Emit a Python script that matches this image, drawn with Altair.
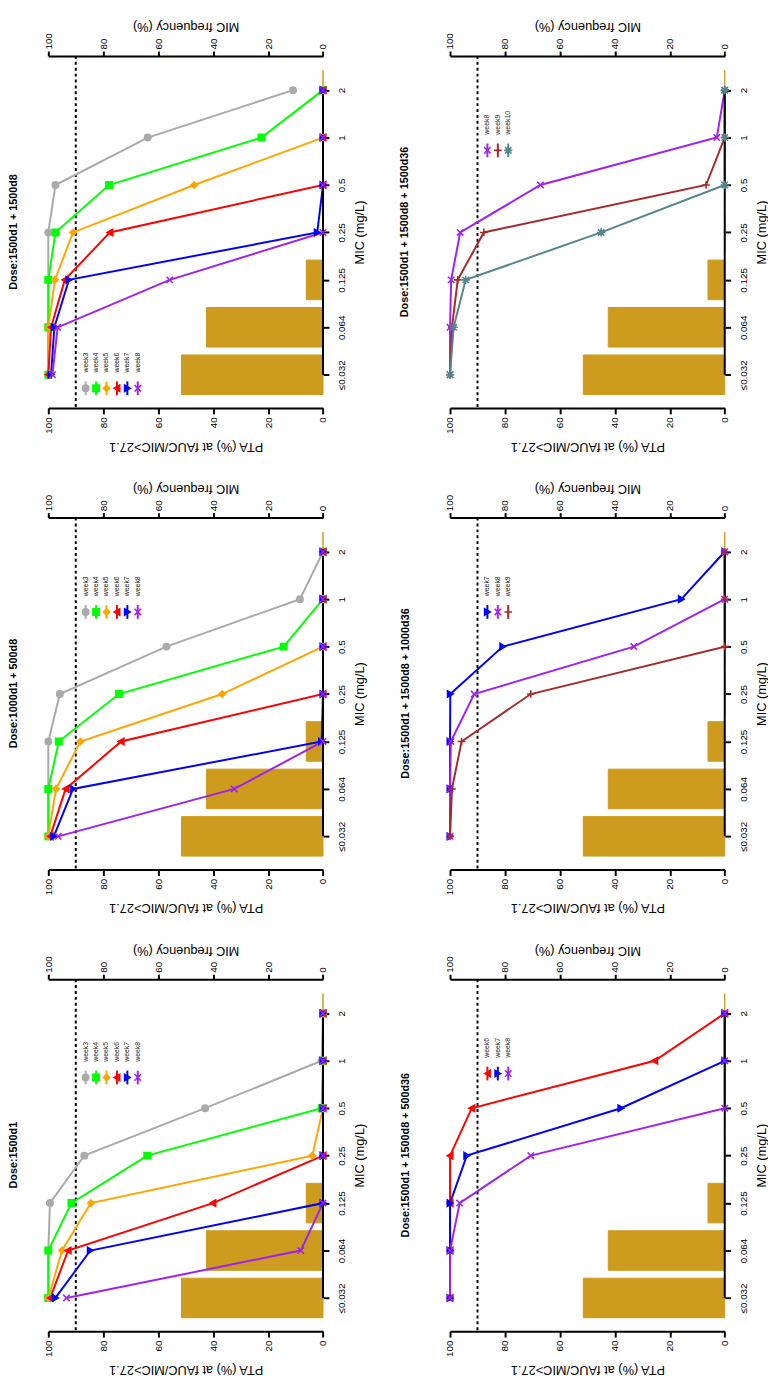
import json
import altair as alt
import pandas as pd

# ---------------- data ----------------
MIC_LABELS = ["≤0.032", "0.064", "0.125", "0.25", "0.5", "1", "2"]
MIC_FREQ = [51.5, 42.4, 6.1, 0, 0, 0, 0]          # MIC frequency (%)
TARGET = [90]                                     # PTA target line (%)

WEEKS = ["week3", "week4", "week5", "week6", "week7", "week8", "week9", "week10"]
WEEK_COLORS = ["#AAAAAA", "#00FF00", "#FFA500", "#FF0000", "#0000FF",
               "#A020F0", "#A52A2A", "#53868B"]
X_PATH = "M-1,-1L1,1M-1,1L1,-1"
PLUS_PATH = "M-1.2,0L1.2,0M0,-1.2L0,1.2"
STAR_PATH = "M-1,-1L1,1M-1,1L1,-1M-1.3,0L1.3,0M0,-1.3L0,1.3"
WEEK_SHAPES = ["circle", "square", "diamond", "triangle-left", "triangle-right",
               X_PATH, PLUS_PATH, STAR_PATH]
WEEK_FILLS = ["#AAAAAA", "#00FF00", "#FFA500", "#FF0000", "#0000FF",
              "transparent", "transparent", "transparent"]

PTA_1500d1_1500d8 = {
    "week3": [100, 100, 100, 100, 97.4, 63.8, 10.9],
    "week4": [100, 100, 100, 97.4, 77.9, 22.4, 0],
    "week5": [100, 100, 97.6, 91.0, 46.9, 0, 0],
    "week6": [100, 99.0, 94.0, 77.6, 0, 0, 0],
    "week7": [99.0, 97.8, 92.5, 2.1, 0, 0, 0],
    "week8": [98.5, 96.6, 55.8, 0, 0, 0, 0],
}
PTA_1000d1_500d8 = {
    "week3": [100, 100, 100, 95.8, 57.0, 8.4, 0],
    "week4": [100, 100, 96.2, 74.3, 14.3, 0, 0],
    "week5": [100, 97.2, 88.3, 36.7, 0, 0, 0],
    "week6": [99.3, 93.7, 73.5, 0, 0, 0, 0],
    "week7": [98.0, 91.0, 0.5, 0, 0, 0, 0],
    "week8": [96.4, 32.3, 0, 0, 0, 0, 0],
}
PTA_1500d1 = {
    "week3": [100, 100, 99.4, 86.9, 42.9, 0.5, 0],
    "week4": [100, 100, 91.6, 64.0, 0.5, 0, 0],
    "week5": [100, 95.0, 84.5, 3.9, 0, 0, 0],
    "week6": [99.3, 92.8, 40.1, 0, 0, 0, 0],
    "week7": [97.4, 84.7, 0, 0, 0, 0, 0],
    "week8": [93.4, 8.1, 0, 0, 0, 0, 0],
}
PTA_1500d36 = {
    "week8": [100, 100, 99.6, 96.3, 67.1, 2.9, 0],
    "week9": [100, 99.3, 97.2, 87.7, 6.8, 0, 0],
    "week10": [100, 98.7, 94.3, 45.0, 0, 0, 0],
}
PTA_1000d36 = {
    "week7": [100, 100, 100, 99.9, 80.8, 15.8, 0],
    "week8": [100, 100, 99.7, 91.2, 33.1, 0, 0],
    "week9": [100, 99.3, 95.8, 70.6, 0, 0, 0],
}
PTA_500d36 = {
    "week6": [100, 100, 100, 100, 92.1, 25.5, 0],
    "week7": [100, 100, 100, 93.9, 37.8, 0, 0],
    "week8": [100, 100, 96.5, 70.6, 0, 0, 0],
}

PANELS = [
    ("Dose:1500d1 + 1500d8", PTA_1500d1_1500d8, 338, 23),
    ("Dose:1500d1 + 1500d8 + 1500d36", PTA_1500d36, 96, 33),
    ("Dose:1000d1 + 500d8", PTA_1000d1_500d8, 96, 23),
    ("Dose:1500d1 + 1500d8 + 1000d36", PTA_1000d36, 96, 33),
    ("Dose:1500d1", PTA_1500d1, 100, 23),
    ("Dose:1500d1 + 1500d8 + 500d36", PTA_500d36, 96, 33),
]

# ---------------- style ----------------
FONT = "Liberation Sans"
GOLD = "#CD9B1D"
W, H = 279.4, 358
Y_DOMAIN = [-0.7, 6.72]
BAR_HALF = 0.4167

x_scale = alt.Scale(domain=[0, 100], reverse=True, nice=False)
y_scale = alt.Scale(domain=Y_DOMAIN, nice=False, zero=False)
color_scale = alt.Scale(domain=WEEKS, range=WEEK_COLORS)
shape_scale = alt.Scale(domain=WEEKS, range=WEEK_SHAPES)
fill_scale = alt.Scale(domain=WEEKS, range=WEEK_FILLS)

label_expr = json.dumps(MIC_LABELS, ensure_ascii=False) + "[datum.value]"
y_axis = alt.Axis(orient="right", values=list(range(len(MIC_LABELS))), labelExpr=label_expr,
                  title="MIC (mg/L)", domain=False, tickSize=6, tickWidth=2,
                  labelAngle=270, labelAlign="center", labelBaseline="top", labelPadding=8,
                  titleAngle=270, titleBaseline="top", titlePadding=7, titleAlign="center",
                  grid=False)
pta_axis = alt.Axis(orient="bottom", title="PTA (%) at fAUC/MIC>27.1",
                    values=[0, 20, 40, 60, 80, 100], format="d",
                    labelAngle=270, labelAlign="right", labelBaseline="middle", labelPadding=3,
                    tickSize=6, tickWidth=2, domainWidth=2,
                    titleAngle=180, titleBaseline="bottom", titlePadding=6, grid=False)
freq_axis = alt.Axis(orient="top", title="MIC frequency (%)",
                     values=[0, 20, 40, 60, 80, 100], format="d",
                     labelAngle=270, labelAlign="left", labelBaseline="middle", labelPadding=2,
                     tickSize=5, tickWidth=2, domainWidth=2,
                     titleAngle=180, titleBaseline="top", titlePadding=0, grid=False)


def make_panel(title, pta, legend_y, title_offset):
    n = len(MIC_LABELS)
    pts = pd.DataFrame([{"series": s, "idx": i, "pta": v}
                        for s, vals in pta.items() for i, v in enumerate(vals)])
    bars = pd.DataFrame({"idx": list(range(n)), "freq": MIC_FREQ})
    target = pd.DataFrame({"t": TARGET})
    axis_line = pd.DataFrame({"z": [0], "a": [0], "b": [n - 1]})
    leg = pd.DataFrame({"series": list(pta.keys()), "k": list(range(len(pta)))})

    bar_layer = alt.Chart(bars).transform_calculate(
        lo=f"datum.idx - {BAR_HALF}", hi=f"datum.idx + {BAR_HALF}"
    ).mark_rect(color=GOLD, stroke=GOLD, strokeWidth=1).encode(
        x=alt.X("freq:Q", scale=x_scale, axis=freq_axis),
        x2=alt.datum(0),
        y=alt.Y("lo:Q", scale=y_scale, axis=y_axis),
        y2="hi:Q",
    )

    rule90 = alt.Chart(target).mark_rule(strokeDash=[3, 3], strokeWidth=2, color="black").encode(
        x=alt.X("t:Q", scale=x_scale, axis=pta_axis)
    )
    mic_line = alt.Chart(axis_line).mark_rule(strokeWidth=2, color="black").encode(
        x=alt.X("z:Q", scale=x_scale, axis=pta_axis),
        y=alt.Y("a:Q", scale=y_scale, axis=y_axis),
        y2="b:Q",
    )
    lines = alt.Chart(pts).mark_line(strokeWidth=2).encode(
        x=alt.X("pta:Q", scale=x_scale, axis=pta_axis),
        y=alt.Y("idx:Q", scale=y_scale, axis=y_axis),
        color=alt.Color("series:N", scale=color_scale, legend=None),
        order=alt.Order("idx:Q"),
    )
    points = alt.Chart(pts).mark_point(filled=False, size=42, strokeWidth=1.6, opacity=1).encode(
        x=alt.X("pta:Q", scale=x_scale, axis=pta_axis),
        y=alt.Y("idx:Q", scale=y_scale, axis=y_axis),
        color=alt.Color("series:N", scale=color_scale, legend=None),
        shape=alt.Shape("series:N", scale=shape_scale, legend=None),
        fill=alt.Fill("series:N", scale=fill_scale, legend=None),
    )
    inner = alt.layer(rule90, lines, mic_line, points)

    leg_base = alt.Chart(leg).transform_calculate(lx="38 + 10.6 * datum.k")
    leg_rule = leg_base.mark_rule(strokeWidth=2).encode(
        x=alt.X("lx:Q", scale=None, axis=None),
        y=alt.value(legend_y - 7), y2=alt.value(legend_y + 7),
        color=alt.Color("series:N", scale=color_scale, legend=None),
    )
    leg_pt = leg_base.mark_point(filled=False, size=42, strokeWidth=1.6, opacity=1).encode(
        x=alt.X("lx:Q", scale=None, axis=None),
        y=alt.value(legend_y),
        color=alt.Color("series:N", scale=color_scale, legend=None),
        shape=alt.Shape("series:N", scale=shape_scale, legend=None),
        fill=alt.Fill("series:N", scale=fill_scale, legend=None),
    )
    leg_txt = leg_base.mark_text(angle=270, align="left", baseline="middle", fontSize=7,
                                 font=FONT, color="#222222").encode(
        x=alt.X("lx:Q", scale=None, axis=None),
        y=alt.value(legend_y - 16),
        text="series:N",
    )

    return alt.layer(bar_layer, inner, leg_rule, leg_pt, leg_txt).resolve_scale(
        x="independent"
    ).properties(
        width=W, height=H,
        title=alt.TitleParams(title, orient="left", anchor="middle", frame="group",
                              angle=270, offset=title_offset, fontSize=11,
                              fontWeight="bold", font=FONT, color="black"),
    )


panels = [make_panel(*p) for p in PANELS]

chart = alt.concat(
    *panels, columns=2, spacing={"row": 111.5, "column": 128.6}, bounds="flush"
).properties(
    padding={"left": 0, "top": 0, "right": 0, "bottom": 0}
).configure_view(stroke=None).configure_axis(
    labelFont=FONT, titleFont=FONT, labelColor="black", titleColor="black",
    domainColor="black", tickColor="black", titleFontWeight="normal",
    labelFontSize=10, titleFontSize=13, grid=False,
)

chart.save("out.html", embed_options={"renderer": "svg", "actions": False})
